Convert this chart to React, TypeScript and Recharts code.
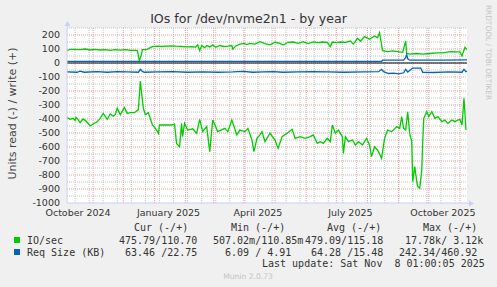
import React from 'react';
import { LineChart, Line, XAxis, YAxis, CartesianGrid, ReferenceLine } from 'recharts';

// x values: days since 2024-10-01
const xDomain: [number, number] = [5, 403];
const xLabelDays = [16, 106, 195, 287, 379];
const xLabelTexts = ['October 2024', 'January 2025', 'April 2025', 'July 2025', 'October 2025'];
const monthStartDays = [31, 61, 92, 123, 151, 182, 212, 243, 273, 304, 335, 365, 396];
const minorDays = [13, 27, 41, 55, 69, 83, 97, 111, 125, 139, 153, 167, 181, 195, 209, 223, 237, 251, 265, 279, 293, 307, 321, 335, 349, 363, 377, 391];

const yDomain: [number, number] = [-1000, 250];
const yLabelTicks = [200, 100, 0, -100, -200, -300, -400, -500, -600, -700, -800, -900, -1000];
const yMajorTicks = [200, 100, 0, -100, -200, -300, -400, -500, -600, -700, -800, -900];
const yMinorTicks = [250, 150, 50, -50, -150, -250, -350, -450, -550, -650, -750, -850, -950];

// IO/sec write (+)
const ioWrite: [number, number][] = [
  [5, 88], [8, 98], [13, 98], [18, 95], [23, 100], [28, 93], [33, 97], [38, 93], [43, 95], [48, 90],
  [53, 95], [58, 92], [63, 95], [68, 90], [73, 90], [75, 88], [77, 16], [79, 60], [80, 95], [84, 95],
  [88, 110], [90, 117], [95, 121], [99, 118], [104, 121], [109, 123], [114, 120], [119, 118], [124, 115],
  [129, 116], [133, 114], [135, 130], [137, 88], [139, 125], [142, 110], [144, 125], [147, 115], [150, 128],
  [153, 112], [157, 125], [161, 118], [165, 120], [169, 125], [170, 98], [173, 122], [177, 135], [181, 140],
  [184, 132], [187, 140], [192, 135], [197, 152], [202, 138], [207, 130], [212, 148], [217, 140], [220, 128],
  [225, 148], [230, 150], [235, 140], [240, 152], [245, 138], [250, 150], [255, 145], [259, 150], [264, 148],
  [267, 117], [269, 150], [273, 145], [277, 150], [282, 148], [287, 157], [290, 135], [294, 176], [297, 155],
  [301, 188], [306, 170], [311, 193], [314, 180], [316, 217], [319, 88], [324, 81], [329, 86], [334, 81],
  [339, 76], [342, 157], [343, 69], [346, 64], [353, 68], [359, 64], [366, 68], [373, 72], [379, 72],
  [386, 81], [393, 80], [396, 80], [398, 50], [401, 112], [403, 95],
];

// IO/sec read (-)
const ioRead: [number, number][] = [
  [5, -388], [8, -402], [11, -395], [13, -410], [14, -388], [16, -405], [18, -426], [21, -400], [24, -415],
  [28, -450], [31, -436], [35, -420], [38, -395], [41, -360], [45, -402], [48, -364], [51, -380], [53, -369],
  [55, -324], [58, -370], [62, -317], [65, -360], [68, -355], [72, -355], [76, -333], [78, -129], [79, -200],
  [81, -324], [83, -369], [86, -355], [90, -443], [93, -467], [96, -502], [97, -443], [102, -443], [109, -443],
  [112, -436], [114, -574], [117, -598], [119, -431], [120, -526], [122, -431], [125, -479], [130, -470],
  [134, -502], [137, -402], [140, -490], [144, -455], [147, -633], [150, -407], [155, -490], [162, -467],
  [165, -490], [169, -407], [174, -514], [177, -479], [182, -490], [185, -467], [189, -550], [191, -633],
  [194, -538], [197, -514], [199, -490], [202, -562], [207, -502], [212, -550], [215, -610], [219, -526],
  [224, -502], [229, -474], [232, -538], [237, -526], [242, -538], [247, -526], [250, -514], [254, -574],
  [257, -562], [260, -574], [264, -538], [267, -562], [269, -443], [272, -502], [275, -479], [279, -526],
  [280, -645], [282, -526], [285, -562], [289, -550], [292, -586], [295, -562], [299, -586], [303, -538],
  [306, -586], [308, -669], [311, -598], [314, -621], [318, -681], [321, -538], [324, -479], [328, -490],
  [333, -455], [336, -467], [338, -383], [340, -467], [342, -479], [344, -348], [346, -502], [348, -562],
  [349, -848], [351, -740], [353, -848], [354, -883], [356, -895], [358, -764], [359, -550], [360, -395],
  [363, -348], [365, -383], [368, -348], [371, -395], [374, -383], [378, -419], [381, -407], [384, -431],
  [388, -407], [391, -419], [394, -407], [396, -402], [398, -443], [400, -252], [402, -479],
];

// Req Size (KB) write (+)
const reqWrite: [number, number][] = [
  [5, 12], [60, 12], [120, 12], [180, 12], [240, 12], [300, 12], [318, 12], [319, 20], [340, 20],
  [342, 40], [343, 60], [344, 30], [346, 20], [380, 20], [403, 22],
];

// Req Size (KB) read (-)
const reqRead: [number, number][] = [
  [5, -64], [15, -66], [18, -58], [22, -66], [35, -62], [45, -66], [55, -62], [65, -64], [76, -66],
  [78, -45], [80, -60], [82, -66], [95, -64], [110, -62], [125, -66], [140, -63], [155, -66], [170, -64],
  [180, -60], [190, -66], [200, -64], [210, -62], [220, -66], [235, -64], [250, -62], [265, -64],
  [280, -66], [300, -64], [315, -62], [318, -45], [320, -62], [325, -75], [330, -72], [335, -78],
  [340, -70], [342, -45], [344, -65], [349, -36], [357, -36], [359, -66], [370, -68], [385, -64],
  [398, -66], [400, -45], [402, -62], [403, -60],
];

const legendSeries = ['IO/sec', 'Req Size (KB)'];
const legendColors = ['#00CC00', '#0066B3'];
const legendHeaders = ['Cur (-/+)', 'Min (-/+)', 'Avg (-/+)', 'Max (-/+)'];
const legendValues: string[][] = [
  ['475.79/110.70', '507.02m/110.85m', '479.09/115.18', ' 17.78k/ 3.12k'],
  [' 63.46 /22.75', '  6.09 / 4.91', ' 64.28 /15.48', '242.34/460.92'],
];

const toPts = (a: [number, number][]) => a.map(([day, v]) => ({ day, v }));

const GREEN = '#00CC00';
const BLUE = '#0066B3';
const AXIS = '#c9d0f2';
const MONO = 'DejaVu Sans Mono, monospace';
const SANS = 'DejaVu Sans, sans-serif';

export default function App() {
  const colX = [119, 213, 305, 399];
  const headX = [134, 231, 327, 423];
  const rowY = [243.5, 255.5];
  return (
    <div style={{ position: 'absolute', left: 0, top: 0, width: 497, height: 287, background: '#f0f0f0', overflow: 'hidden' }}>
      <LineChart width={497} height={287} margin={{ top: 28, left: 0, right: 30, bottom: 0 }} style={{ position: 'absolute', left: 0, top: 0 }}>
        <CartesianGrid stroke="#c4c4c4" strokeDasharray="1 1" fill="#ffffff"
          horizontalValues={yMinorTicks} verticalValues={minorDays} />
        <CartesianGrid stroke="#eb9c9c" strokeDasharray="1 1"
          horizontalValues={yMajorTicks} verticalValues={monthStartDays} />
        <XAxis type="number" dataKey="day" domain={xDomain} allowDataOverflow ticks={xLabelDays}
          tickFormatter={(d: number) => xLabelTexts[xLabelDays.indexOf(d)] ?? ''} interval={0}
          height={84} tickSize={0} tickMargin={6} tickLine={false}
          axisLine={{ stroke: AXIS }} tick={{ fontSize: 9.5, fill: '#333', fontFamily: SANS }} />
        <YAxis type="number" dataKey="v" domain={yDomain} allowDataOverflow ticks={yLabelTicks} interval={0}
          width={67} tickSize={0} tickMargin={7} tickLine={false}
          axisLine={{ stroke: AXIS }} tick={{ fontSize: 9.5, fill: '#333', fontFamily: SANS }} />
        <ReferenceLine y={0} stroke="#000" strokeWidth={1} />
        <Line data={toPts(ioRead)} dataKey="v" type="linear" stroke={GREEN} strokeWidth={1.3} dot={false} isAnimationActive={false} />
        <Line data={toPts(ioWrite)} dataKey="v" type="linear" stroke={GREEN} strokeWidth={1.3} dot={false} isAnimationActive={false} />
        <Line data={toPts(reqRead)} dataKey="v" type="linear" stroke={BLUE} strokeWidth={1.3} dot={false} isAnimationActive={false} />
        <Line data={toPts(reqWrite)} dataKey="v" type="linear" stroke={BLUE} strokeWidth={1.3} dot={false} isAnimationActive={false} />
      </LineChart>
      <svg width={497} height={287} style={{ position: 'absolute', left: 0, top: 0, pointerEvents: 'none' }}>
        <text x={248.5} y={23} textAnchor="middle" fontFamily={SANS} fontSize={12.6} fill="#333">IOs for /dev/nvme2n1 - by year</text>
        <text transform="translate(15.5,113.5) rotate(-90)" textAnchor="middle" fontFamily={SANS} fontSize={11} fill="#444">Units read (-) / write (+)</text>
        <text transform="translate(485.5,52.5) rotate(90)" textAnchor="middle" fontFamily={SANS} fontSize={7.4} fill="#c4c4c4">RRDTOOL / TOBI OETIKER</text>
        <line x1={67.5} y1={28} x2={67.5} y2={25} stroke={AXIS} />
        <polygon points="64.5,26 70.5,26 67.5,21" fill={AXIS} />
        <line x1={467} y1={203.5} x2={470} y2={203.5} stroke={AXIS} />
        <polygon points="469,200.5 469,206.5 474,203.5" fill={AXIS} />
        {legendHeaders.map((h, i) => (
          <text key={h} x={headX[i]} y={231} fontFamily={MONO} fontSize={10} fill="#333" style={{ whiteSpace: 'pre' }}>{h}</text>
        ))}
        {legendSeries.map((s, r) => (
          <g key={s}>
            <rect x={14} y={rowY[r] - 6.5} width={6} height={6} fill={legendColors[r]} />
            <text x={27} y={rowY[r]} fontFamily={MONO} fontSize={10} fill="#333" style={{ whiteSpace: 'pre' }}>{s}</text>
            {legendValues[r].map((txt, c) => (
              <text key={c} x={colX[c]} y={rowY[r]} fontFamily={MONO} fontSize={10} fill="#333" style={{ whiteSpace: 'pre' }}>{txt}</text>
            ))}
          </g>
        ))}
        <text x={262} y={267} fontFamily={MONO} fontSize={10} fill="#333" style={{ whiteSpace: 'pre' }}>Last update: Sat Nov  8 01:00:05 2025</text>
        <text x={248} y={279} textAnchor="middle" fontFamily={SANS} fontSize={7.6} fill="#c4c4c4">Munin 2.0.73</text>
      </svg>
    </div>
  );
}
